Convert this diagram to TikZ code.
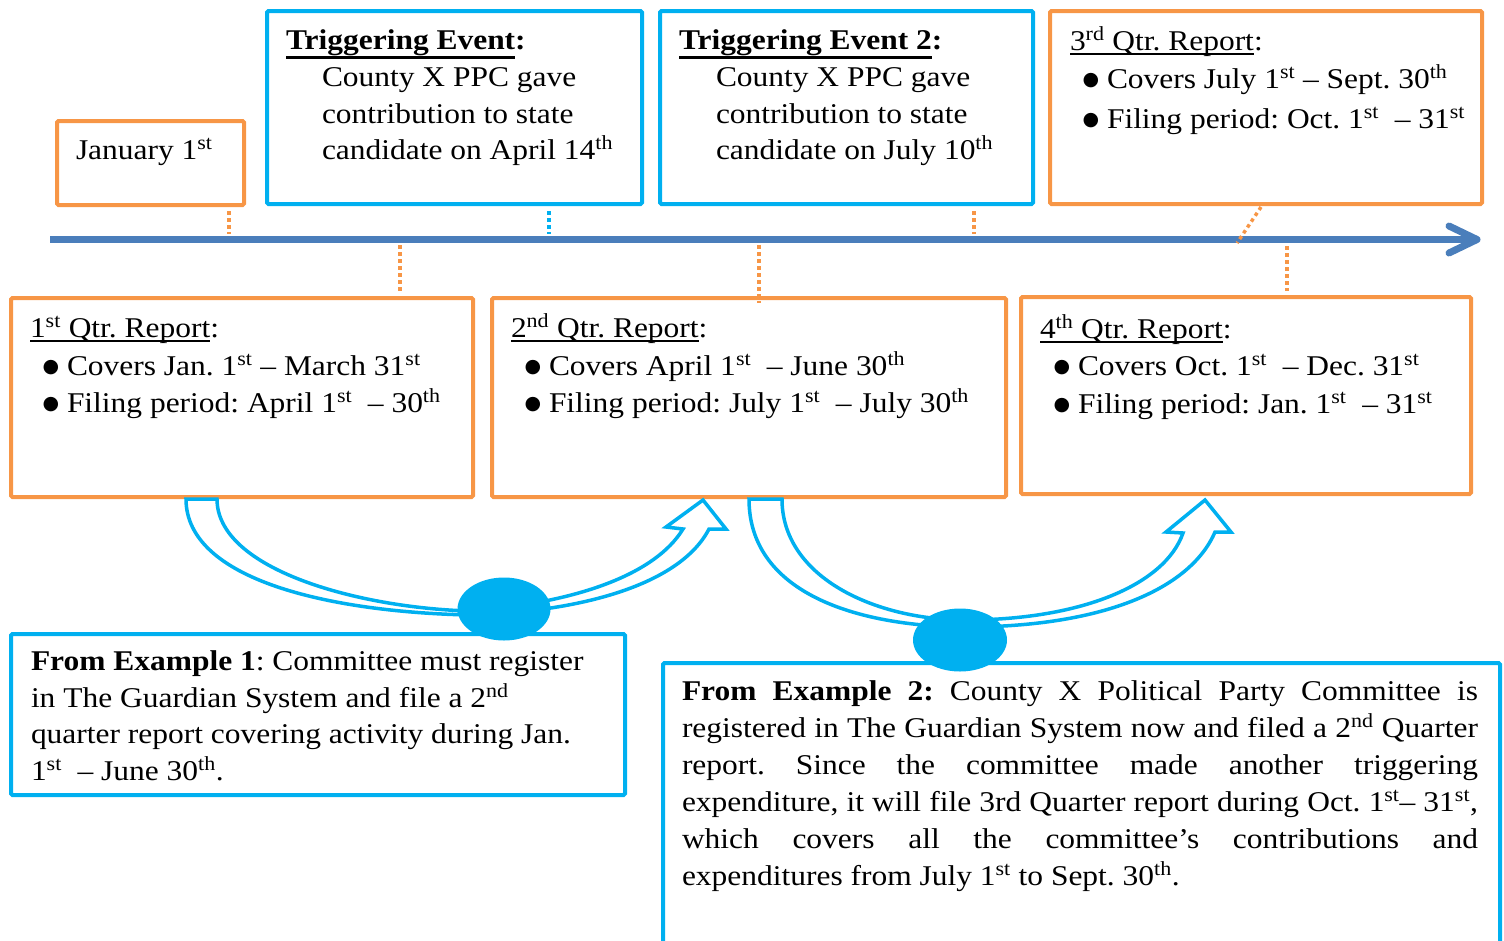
\documentclass[tikz,border=0pt]{standalone}
\usepackage{fontspec}
\usepackage{graphicx}
\setmainfont{Liberation Serif}[FakeStretch=1.1]
\newfontfamily\bulfont{DejaVu Sans}
\usetikzlibrary{shapes.geometric}
\definecolor{orng}{HTML}{F79646}
\definecolor{cyanb}{HTML}{00B0F0}
\definecolor{tlblue}{HTML}{4A7EBB}
\newcommand\sups[1]{\textsuperscript{#1}}
\newsavebox\myulbox
\newcommand\ulq[1]{\sbox\myulbox{#1}\rlap{\rule[-5pt]{\wd\myulbox}{2pt}}\usebox\myulbox}
\newcommand\ulb[1]{\sbox\myulbox{#1}\rlap{\rule[-9.5pt]{\wd\myulbox}{3pt}}\usebox\myulbox}
\newcommand\bul{\makebox[23pt][l]{\hspace{-1.5pt}\raisebox{3pt}{\bulfont\fontsize{19}{19}\selectfont ●}}}
\frenchspacing
\tikzset{
  obox/.style={draw=orng, line width=4pt, rounded corners=1.5pt, inner sep=0pt, anchor=north west, rectangle},
  bbox/.style={draw=cyanb, line width=4pt, rounded corners=1.5pt, inner sep=0pt, anchor=north west, rectangle},
  txt/.style={anchor=base west, inner sep=0pt, outer sep=0pt, font=\fontsize{28.6}{37}\selectfont\frenchspacing},
  dotor/.style={draw=orng, line width=3.5pt, dash pattern=on 3.5pt off 3.5pt},
  dotbl/.style={draw=cyanb, line width=3.5pt, dash pattern=on 3.5pt off 3.5pt},
  timeline/.style={draw=tlblue, line width=7pt},
  curvarrow/.style={draw=cyanb, line width=3.5pt, fill=white, line join=miter},
  blob/.style={ellipse, fill=cyanb, draw=none, inner sep=0pt}
}
\begin{document}
\begin{tikzpicture}[x=1pt,y=-1pt]
\useasboundingbox (0,0) rectangle (1504,940);
% boxes
\node[obox, minimum width=187pt, minimum height=84pt] (jan) at (55,119) {};
\node[bbox, minimum width=375pt, minimum height=193pt] (te1) at (265,9) {};
\node[bbox, minimum width=373pt, minimum height=193pt] (te2) at (658,9) {};
\node[obox, minimum width=432pt, minimum height=193pt] (q3) at (1048,9) {};
\node[obox, minimum width=462pt, minimum height=199pt] (q1) at (9,296) {};
\node[obox, minimum width=514pt, minimum height=199pt] (q2) at (490,296) {};
\node[obox, minimum width=450pt, minimum height=197pt] (q4) at (1019,295) {};
\node[bbox, minimum width=614pt, minimum height=161pt] (ex1) at (9,632) {};
\node[bbox, minimum width=837pt, minimum height=290pt] (ex2) at (661,661) {};
% timeline
\coordinate (tl0) at (50,239.5);
\coordinate (tl1) at (1472,239.5);
\coordinate (tlw1) at (1449,226);
\coordinate (tltip) at (1477,239.5);
\coordinate (tlw2) at (1449,253);
\draw[timeline] (tl0) -- (tl1);
\draw[timeline, line cap=round, line join=round] (tlw1) -- (tltip) -- (tlw2);
% dotted connectors
\coordinate (cj) at (229,234);
\coordinate (c1) at (549,234);
\coordinate (c2) at (974,234);
\coordinate (c3a) at (1261,207);
\coordinate (c3) at (1237,243);
\coordinate (cq1) at (400,245);
\coordinate (cq2) at (759,245);
\coordinate (cq2b) at (759,303);
\coordinate (cq4) at (1287,246);
\draw[dotor] ([yshift=-4pt]jan.south -| cj) -- (cj);
\draw[dotbl] ([yshift=-5pt]te1.south -| c1) -- (c1);
\draw[dotor] ([yshift=-5pt]te2.south -| c2) -- (c2);
\draw[dotor] (c3a) -- (c3);
\draw[dotor] (cq1) -- ([yshift=4pt]q1.north -| cq1);
\draw[dotor] (cq2) -- (cq2b);
\draw[dotor] (cq4) -- ([yshift=4pt]q4.north -| cq4);
% curved arrows
\draw[curvarrow] (186,499) -- (217,499) .. controls (217,570) and (360,608) .. (470,611)
  .. controls (575,603) and (655,575) .. (683,529) -- (666,527) -- (703,500) -- (726,529) -- (709,529)
  .. controls (680,585) and (580,612) .. (470,615) .. controls (330,612) and (186,580) .. (186,499) -- cycle;
\draw[curvarrow] (749,499) -- (782,499) .. controls (782,575) and (870,618) .. (960,620)
  .. controls (1080,621) and (1165,585) .. (1183,533) -- (1166,532) -- (1205,500) -- (1231,532) -- (1215,532)
  .. controls (1190,590) and (1100,628) .. (960,627) .. controls (850,625) and (749,590) .. (749,499) -- cycle;
\node[blob, minimum width=93pt, minimum height=63pt] (e1) at (504,609) {};
\node[blob, minimum width=94pt, minimum height=63pt] (e2) at (960,640) {};
% texts
\node[txt] (tjan) at (76,159) {January 1\sups{st}};
\node[txt] (te1h) at (286,49) {\textbf{\ulb{Triggering Event}:}};
\node[txt] (te1a) at (322,86) {County X PPC gave};
\node[txt] (te1b) at (322,123) {contribution to state};
\node[txt] (te1c) at (322,159) {candidate on April 14\sups{th}};
\node[txt] (te2h) at (679,49) {\textbf{\ulb{Triggering Event 2}:}};
\node[txt] (te2a) at (716,86) {County X PPC gave};
\node[txt] (te2b) at (716,123) {contribution to state};
\node[txt] (te2c) at (716,159) {candidate on July 10\sups{th}};
\node[txt] (q3h) at (1070,50) {\ulq{3\sups{rd} Qtr. Report}:};
\node[txt] (q3a) at (1084,88) {\bul Covers July 1\sups{st} -- Sept. 30\sups{th}};
\node[txt] (q3b) at (1084,128) {\bul Filing period: Oct. 1\sups{st}\ \ -- 31\sups{st}};
\node[txt] (q1h) at (30,337) {\ulq{1\sups{st} Qtr. Report}:};
\node[txt] (q1a) at (44,375) {\bul Covers Jan. 1\sups{st} -- March 31\sups{st}};
\node[txt] (q1b) at (44,412) {\bul Filing period: April 1\sups{st}\ \ -- 30\sups{th}};
\node[txt] (q2h) at (511,337) {\ulq{2\sups{nd} Qtr. Report}:};
\node[txt] (q2a) at (526,375) {\bul Covers April 1\sups{st}\ \ -- June 30\sups{th}};
\node[txt] (q2b) at (526,412) {\bul Filing period: July 1\sups{st}\ \ -- July 30\sups{th}};
\node[txt] (q4h) at (1040,338) {\ulq{4\sups{th} Qtr. Report}:};
\node[txt] (q4a) at (1055,375) {\bul Covers Oct. 1\sups{st}\ \ -- Dec. 31\sups{st}};
\node[txt] (q4b) at (1055,413) {\bul Filing period: Jan. 1\sups{st}\ \ -- 31\sups{st}};
\node[txt] (x1a) at (31,670) {\textbf{From Example 1}: Committee must register};
\node[txt] (x1b) at (31,707) {in The Guardian System and file a 2\sups{nd}};
\node[txt] (x1c) at (31,743) {quarter report covering activity during Jan.};
\node[txt] (x1d) at (31,780) {1\sups{st}\ \ -- June 30\sups{th}.};
\node[txt] (x2a) at (682,700) {\makebox[796pt][s]{\textbf{From Example 2:} County X Political Party Committee is}};
\node[txt] (x2b) at (682,737) {\makebox[796pt][s]{registered in The Guardian System now and filed a 2\sups{nd} Quarter}};
\node[txt] (x2c) at (682,774) {\makebox[796pt][s]{report. Since the committee made another triggering}};
\node[txt] (x2d) at (682,811) {\makebox[796pt][s]{expenditure, it will file 3rd Quarter report during Oct. 1\sups{st}-- 31\sups{st},}};
\node[txt] (x2e) at (682,848) {\makebox[796pt][s]{which covers all the committee’s contributions and}};
\node[txt] (x2f) at (682,885) {expenditures from July 1\sups{st} to Sept. 30\sups{th}.};
\end{tikzpicture}
\end{document}
